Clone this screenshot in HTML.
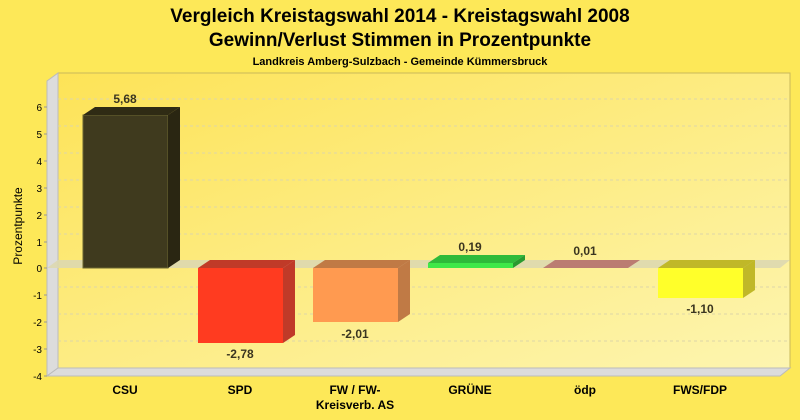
<!DOCTYPE html><html><head><meta charset="utf-8"><style>body{margin:0;background:#fde85a}svg{display:block;font-family:"Liberation Sans",sans-serif}</style></head><body>
<svg width="800" height="420" viewBox="0 0 800 420">
<defs><linearGradient id="bg" x1="0" y1="0" x2="1" y2="1"><stop offset="0" stop-color="#fde357"/><stop offset="1" stop-color="#fdf5b0"/></linearGradient></defs>
<rect width="800" height="420" fill="#fde858"/>
<text x="400" y="22" text-anchor="middle" font-size="19" font-weight="bold">Vergleich Kreistagswahl 2014 - Kreistagswahl 2008</text>
<text x="400" y="46" text-anchor="middle" font-size="19" font-weight="bold">Gewinn/Verlust Stimmen in Prozentpunkte</text>
<text x="400" y="65" text-anchor="middle" font-size="11" font-weight="bold">Landkreis Amberg-Sulzbach - Gemeinde Kümmersbruck</text>
<rect x="58" y="73" width="732" height="295" fill="url(#bg)" stroke="#c9b95a" stroke-width="1"/>
<polygon points="47,81 58,73 58,368 47,376" fill="#dcdcdc" stroke="#bbb"/>
<polygon points="47,376 58,368 790,368 780,376" fill="#dcdcdc" stroke="#bbb"/>
<g stroke="#ddd6a8" stroke-dasharray="3,3" stroke-width="1">
<line x1="58" y1="99" x2="790" y2="99"/><line x1="58" y1="126" x2="790" y2="126"/><line x1="58" y1="153" x2="790" y2="153"/><line x1="58" y1="180" x2="790" y2="180"/><line x1="58" y1="207" x2="790" y2="207"/><line x1="58" y1="234" x2="790" y2="234"/><line x1="58" y1="287" x2="790" y2="287"/><line x1="58" y1="314" x2="790" y2="314"/><line x1="58" y1="341" x2="790" y2="341"/></g>
<polygon points="47,268 58,260 790,260 780,268" fill="#ddd8b0" opacity="0.9"/>
<g stroke="#999"><line x1="44" y1="107" x2="47" y2="107"/><line x1="44" y1="134" x2="47" y2="134"/><line x1="44" y1="161" x2="47" y2="161"/><line x1="44" y1="188" x2="47" y2="188"/><line x1="44" y1="215" x2="47" y2="215"/><line x1="44" y1="242" x2="47" y2="242"/><line x1="44" y1="268" x2="47" y2="268"/><line x1="44" y1="295" x2="47" y2="295"/><line x1="44" y1="322" x2="47" y2="322"/><line x1="44" y1="349" x2="47" y2="349"/><line x1="44" y1="376" x2="47" y2="376"/></g>
<g font-size="10" text-anchor="end">
<text x="42" y="111">6</text><text x="42" y="138">5</text><text x="42" y="165">4</text><text x="42" y="192">3</text><text x="42" y="219">2</text><text x="42" y="246">1</text><text x="42" y="272">0</text><text x="42" y="299">-1</text><text x="42" y="326">-2</text><text x="42" y="353">-3</text><text x="42" y="380">-4</text></g>
<text transform="translate(22,226) rotate(-90)" text-anchor="middle" font-size="12">Prozentpunkte</text>
<rect x="83" y="115" width="85" height="153" fill="#3f3a1e" stroke="#6b6530"/>
<polygon points="83,115 95,107 180,107 168,115" fill="#2f2b14"/>
<polygon points="168,115 180,107 180,260 168,268" fill="#2a2612"/>
<polygon points="198,268 210,260 295,260 283,268" fill="#c03a28"/>
<polygon points="283,268 295,260 295,335 283,343" fill="#c03a28"/>
<rect x="198" y="268" width="85" height="75" fill="#ff3b20"/>
<polygon points="313,268 325,260 410,260 398,268" fill="#c07a45"/>
<polygon points="398,268 410,260 410,314 398,322" fill="#c07a45"/>
<rect x="313" y="268" width="85" height="54" fill="#ff9a50"/>
<polygon points="428,263 440,255 525,255 513,263" fill="#2fba3a"/>
<polygon points="513,263 525,255 525,260 513,268" fill="#2a9a30"/>
<rect x="428" y="263" width="85" height="5" fill="#3fe848"/>
<polygon points="543,268 555,260 640,260 628,268" fill="#bb7c72"/>
<polygon points="658,268 670,260 755,260 743,268" fill="#c0b828"/>
<polygon points="743,268 755,260 755,290 743,298" fill="#c0b828"/>
<rect x="658" y="268" width="85" height="30" fill="#ffff2a"/>
<g font-size="12" font-weight="bold" fill="#3a3520" text-anchor="middle">
<text x="125" y="103">5,68</text><text x="240" y="358">-2,78</text><text x="355" y="338">-2,01</text><text x="470" y="251">0,19</text><text x="585" y="255">0,01</text><text x="700" y="313">-1,10</text></g>
<g font-size="12" font-weight="bold" text-anchor="middle">
<text x="125" y="394">CSU</text><text x="240" y="394">SPD</text><text x="355" y="394">FW / FW-</text><text x="355" y="409">Kreisverb. AS</text><text x="470" y="394">GRÜNE</text><text x="585" y="394">ödp</text><text x="700" y="394">FWS/FDP</text></g>
</svg></body></html>
